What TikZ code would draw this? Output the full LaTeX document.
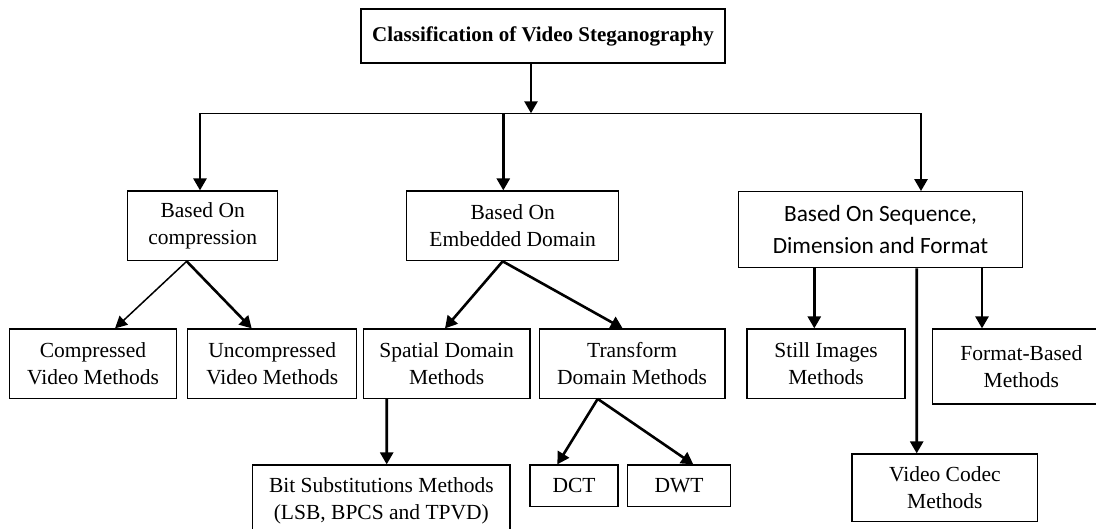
\documentclass[tikz,border=0pt]{standalone}
\usepackage{fontspec}
\setmainfont{Liberation Serif}
\newfontfamily\carlito{Carlito}
\usetikzlibrary{arrows.meta}
\begin{document}
\begin{tikzpicture}[x=1pt,y=-1pt,
  box/.style={draw, line width=1.2pt, inner sep=0pt, align=center,
    font=\fontsize{21.5}{26.5}\selectfont},
  arr/.style={-{Triangle[length=12pt,width=13pt]}, line width=2.6pt},
  thinarr/.style={-{Triangle[length=12pt,width=12pt]}, line width=1.5pt},
  hline/.style={line width=1.5pt}]
\useasboundingbox (0,0) rectangle (1096,529);
\fill[white] (0,0) rectangle (1096,529);
\clip (0,0) rectangle (1096,529);

% nodes
\node[box, minimum width=364pt, minimum height=54pt,
  font=\bfseries\fontsize{21}{26}\selectfont] (title) at (543,36) {Classification of Video Steganography};

\node[box, minimum width=150pt, minimum height=69.7pt] (comp) at (202.7,225.85) {Based On\\compression};
\node[box, minimum width=212pt, minimum height=69.7pt] (emb) at (512.7,225.85) {Based On\\Embedded Domain};
\node[box, minimum width=284.4pt, minimum height=76pt,
  font=\carlito\fontsize{23.3}{31.5}\selectfont] (seq) at (880.5,229.7) {Based On Sequence,\\Dimension and Format};

\node[box, minimum width=167.4pt, minimum height=69.3pt] (cvm) at (93,363.65) {Compressed\\Video Methods};
\node[box, minimum width=169pt, minimum height=69.3pt] (ucvm) at (272.2,363.65) {Uncompressed\\Video Methods};
\node[box, minimum width=166.7pt, minimum height=69.3pt] (sdm) at (446.65,363.65) {Spatial Domain\\Methods};
\node[box, minimum width=185.7pt, minimum height=69.3pt] (tdm) at (632.15,363.65) {Transform\\Domain Methods};
\node[box, minimum width=158pt, minimum height=69.3pt] (sim) at (826,363.65) {Still Images\\Methods};
\node[box, minimum width=177.3pt, minimum height=75pt] (fbm) at (1021.35,366.5) {Format-Based\\Methods};

\node[box, minimum width=257.3pt, minimum height=72pt] (bit) at (381.35,501) {Bit Substitutions Methods\\(LSB, BPCS and TPVD)};
\node[box, minimum width=88pt, minimum height=41.7pt] (dct) at (574,485.85) {DCT};
\node[box, minimum width=102.6pt, minimum height=41.7pt] (dwt) at (679,485.85) {DWT};
\node[box, minimum width=185.7pt, minimum height=67.7pt] (vcm) at (944.85,487.85) {Video Codec\\Methods};

% junction coordinates
\coordinate (hl) at (200,113.3);
\coordinate (hm) at (503.3,113.3);
\coordinate (j) at (531,113.3);
\coordinate (hr) at (921,113.3);

% connectors
\draw[arr] ([xshift=-12pt]title.south) -- (j);
\draw[hline] ([xshift=-1pt]hl) -- ([xshift=1pt]hr);
\draw[arr] (hl) -- ([xshift=-2.7pt]comp.north);
\draw[arr] (hm) -- ([xshift=-9.4pt]emb.north);
\draw[arr] (hr) -- ([xshift=40.5pt]seq.north);

\draw[thinarr] ([xshift=-16pt]comp.south) -- ([xshift=22pt]cvm.north);
\draw[arr] ([xshift=-16pt]comp.south) -- ([xshift=-20.5pt]ucvm.north);

\draw[arr] ([xshift=-10pt]emb.south) -- ([xshift=-1.65pt]sdm.north);
\draw[arr] ([xshift=-10pt]emb.south) -- ([xshift=-9.45pt]tdm.north);

\draw[arr] ([xshift=-59.95pt]sdm.south) -- ([xshift=5.35pt]bit.north);

\draw[arr] ([xshift=-34.45pt]tdm.south) -- ([xshift=-16.7pt]dct.north);
\draw[arr] ([xshift=-34.45pt]tdm.south) -- ([xshift=14.3pt]dwt.north);

\draw[arr] ([xshift=-66.2pt]seq.south) -- ([xshift=-11.7pt]sim.north);
\draw[arr] ([xshift=36.2pt]seq.south) -- ([xshift=-28.15pt]vcm.north);
\draw[arr] ([xshift=101.5pt]seq.south) -- ([xshift=-39.35pt]fbm.north);
\end{tikzpicture}
\end{document}
